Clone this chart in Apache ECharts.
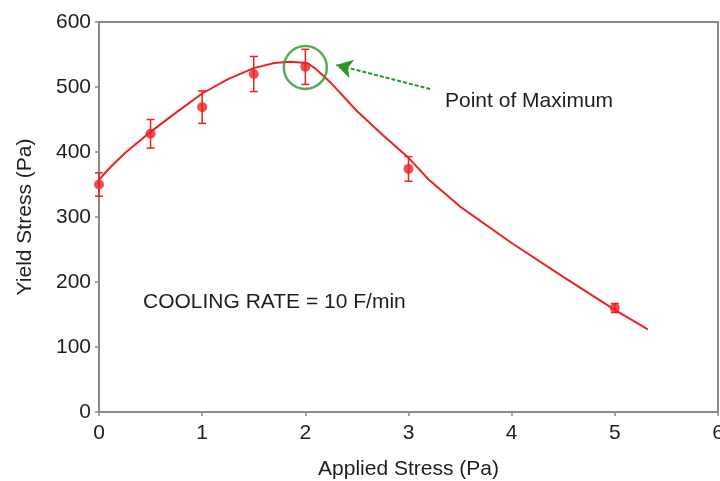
<!DOCTYPE html>
<html>
<head>
<meta charset="utf-8">
<script src="https://cdn.jsdelivr.net/npm/echarts@6/dist/echarts.min.js"></script>
<style>html,body{margin:0;padding:0;background:#fff;}#c{width:720px;height:481px;}</style>
</head>
<body>
<div id="c"></div>
<script>
// Measured data points (Applied Stress, Yield Stress)
var pointX = [0, 0.5, 1, 1.5, 2, 3, 5];
var pointY = [350, 428, 469, 520, 531, 374, 160];
var pointErr = [18, 22, 25, 27, 27, 19, 7];
// Fitted curve
var curveX = [0, 0.1, 0.25, 0.5, 0.75, 1, 1.25, 1.5, 1.7, 1.85, 2.02, 2.1, 2.25, 2.5, 2.75, 3, 3.2, 3.5, 4, 4.5, 5, 5.32];
var curveY = [357, 375, 398, 431, 461, 490, 512, 529, 537, 539, 537, 528, 506, 463, 426, 391, 357, 316, 260, 208, 157, 127];
// Annotation
var maxPoint = [2, 530];
var arrowFrom = [3.21, 497];
var arrowTo = [2.3, 534];
var xTicks = [0, 1, 2, 3, 4, 5, 6];
var yTicks = [0, 100, 200, 300, 400, 500, 600];

var FONT = "'Liberation Sans', Arial, sans-serif";
var TXT = '#1e1e1e';
var RED = '#ee2020';
var GREEN = '#2e942e';
var FS = 21;

var curveData = curveX.map(function (x, i) { return [x, curveY[i]]; });
var pointData = pointX.map(function (x, i) { return [x, pointY[i]]; });
var errData = pointX.map(function (x, i) { return [x, pointY[i] - pointErr[i], pointY[i] + pointErr[i]]; });

var chart = echarts.init(document.getElementById('c'), null, {renderer: 'canvas'});
chart.setOption({
  animation: false,
  backgroundColor: '#ffffff',
  grid: {left: 99, top: 22, right: 2, bottom: 69, containLabel: false, outerBoundsMode: 'none',
         show: true, borderColor: '#8a8a8a', borderWidth: 2, backgroundColor: 'transparent'},
  xAxis: {
    type: 'value', min: xTicks[0], max: xTicks[xTicks.length - 1], interval: 1,
    name: 'Applied Stress (Pa)', nameLocation: 'middle', nameGap: 47,
    nameTextStyle: {fontFamily: FONT, fontSize: FS, color: TXT},
    axisLine: {show: true, onZero: false, lineStyle: {color: '#8a8a8a', width: 2}},
    axisTick: {show: true, inside: false, length: 4, lineStyle: {color: '#8a8a8a', width: 1.5}},
    axisLabel: {fontFamily: FONT, fontSize: FS, color: TXT, margin: 11},
    splitLine: {show: false}
  },
  yAxis: {
    type: 'value', min: yTicks[0], max: yTicks[yTicks.length - 1], interval: 100,
    name: 'Yield Stress (Pa)', nameLocation: 'middle', nameGap: 63, nameRotate: 90,
    nameTextStyle: {fontFamily: FONT, fontSize: FS, color: TXT},
    axisLine: {show: true, onZero: false, lineStyle: {color: '#8a8a8a', width: 2}},
    axisTick: {show: true, inside: false, length: 4, lineStyle: {color: '#8a8a8a', width: 1.5}},
    axisLabel: {fontFamily: FONT, fontSize: FS, color: TXT, margin: 8},
    splitLine: {show: false}
  },
  series: [
    {
      type: 'line', data: curveData, showSymbol: false, smooth: false,
      lineStyle: {color: RED, width: 2}, z: 3,
      markLine: {
        silent: true, symbol: ['none', 'arrow'], symbolSize: [14, 16],
        lineStyle: {color: GREEN, width: 2, type: [4, 2]}, label: {show: false},
        data: [[{coord: arrowFrom}, {coord: arrowTo}]]
      }
    },
    {
      type: 'custom', data: errData, z: 4,
      renderItem: function (params, api) {
        var x = api.value(0);
        var lo = api.coord([x, api.value(1)]);
        var hi = api.coord([x, api.value(2)]);
        var w = 4;
        var st = {stroke: RED, lineWidth: 1.5};
        return {type: 'group', children: [
          {type: 'line', shape: {x1: lo[0], y1: lo[1], x2: hi[0], y2: hi[1]}, style: st},
          {type: 'line', shape: {x1: lo[0] - w, y1: lo[1], x2: lo[0] + w, y2: lo[1]}, style: st},
          {type: 'line', shape: {x1: hi[0] - w, y1: hi[1], x2: hi[0] + w, y2: hi[1]}, style: st}
        ]};
      }
    },
    {
      type: 'scatter', data: pointData, symbol: 'circle', symbolSize: 10,
      itemStyle: {color: RED}, z: 5
    },
    {
      type: 'scatter', data: [maxPoint], symbol: 'circle', symbolSize: 43,
      itemStyle: {color: 'rgba(0,0,0,0)', borderColor: GREEN, borderWidth: 2.5}, z: 6, silent: true
    }
  ],
  graphic: [
    {type: 'text', left: 445, top: 91, style: {text: 'Point of Maximum', fontFamily: FONT, fontSize: FS, fill: TXT}},
    {type: 'text', left: 143, top: 292, style: {text: 'COOLING RATE = 10 F/min', fontFamily: FONT, fontSize: FS, fill: TXT}}
  ]
});
</script>
</body>
</html>
